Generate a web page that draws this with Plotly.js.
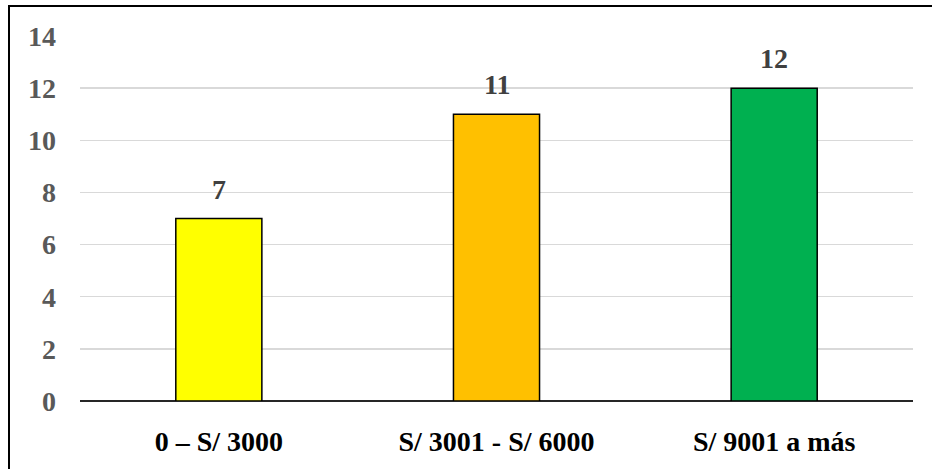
<!DOCTYPE html>
<html>
<head>
<meta charset="utf-8">
<script src="https://cdn.plot.ly/plotly-3.0.1.min.js"></script>
<style>
  html, body { margin: 0; padding: 0; background: #fff; }
  #wrap { position: relative; width: 932px; height: 469px; overflow: hidden; }
  #chart { width: 932px; height: 469px; }
  #frame { position: absolute; left: 8px; top: 5px; width: 940px; height: 480px;
           border-left: 2px solid #000; border-top: 2px solid #000; pointer-events: none; }
</style>
</head>
<body>
<div id="wrap">
  <div id="chart"></div>
  <div id="frame"></div>
</div>
<script>
// Income brackets and number of respondents in each
const categories = ["0 – S/ 3000", "S/ 3001 - S/ 6000", "S/ 9001 a más"];
const counts = [7, 11, 12];
const barColors = ["#FFFF00", "#FFC000", "#00B050"];
const yTicks = [0, 2, 4, 6, 8, 10, 12, 14];

const serif = "'Liberation Serif', 'Times New Roman', serif";
const bold = s => "<b>" + s + "</b>";

const trace = {
  type: "bar",
  x: categories,
  y: counts,
  width: 0.31,
  marker: { color: barColors, line: { color: "#000000", width: 1.5 } },
  hoverinfo: "skip"
};

// value labels above each bar
const labels = categories.map((c, i) => ({
  x: c, y: counts[i], xref: "x", yref: "y",
  text: bold(String(counts[i])), showarrow: false,
  yanchor: "bottom", yshift: 12,
  font: { family: serif, size: 28, color: "#404040", weight: "bold" }
}));

const layout = {
  width: 932, height: 469,
  margin: { l: 80, r: 19, t: 36, b: 68 },
  paper_bgcolor: "#ffffff", plot_bgcolor: "#ffffff",
  showlegend: false,
  xaxis: {
    type: "category",
    tickvals: categories, ticktext: categories.map(bold),
    showgrid: false, zeroline: false,
    showline: false, ticks: "",
    ticklabelstandoff: 21,
    tickfont: { family: serif, size: 28, color: "#000000", weight: "bold" }
  },
  yaxis: {
    range: [0, 14],
    tickvals: yTicks, ticktext: yTicks.map(v => bold(String(v))),
    showgrid: true, gridcolor: "#D9D9D9", gridwidth: 1.5,
    zeroline: true, zerolinecolor: "#262626", zerolinewidth: 1.5,
    showline: false, ticks: "",
    ticklabelstandoff: 23,
    tickfont: { family: serif, size: 28, color: "#595959", weight: "bold" }
  },
  annotations: labels
};

Plotly.newPlot("chart", [trace], layout, { staticPlot: true, displayModeBar: false });
</script>
</body>
</html>
